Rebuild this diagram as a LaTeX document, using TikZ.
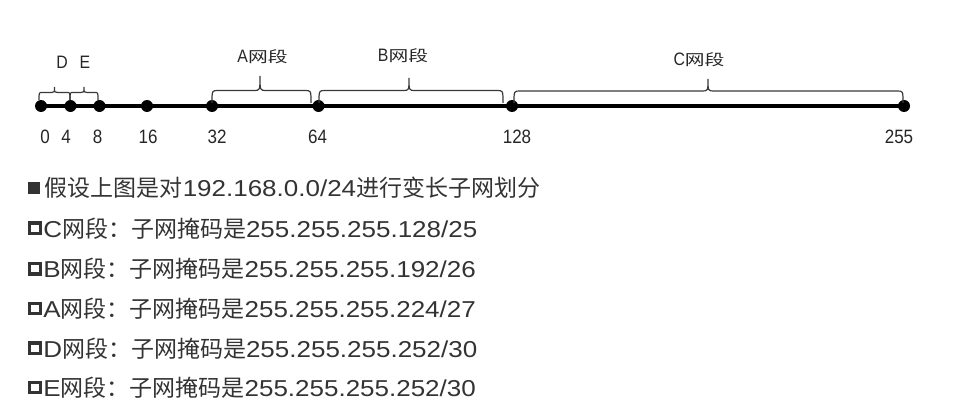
\documentclass[tikz,border=0pt]{standalone}
\usepackage{fontspec}
\newfontfamily\cjk{Noto Sans CJK SC}
\newfontfamily\cjkwide[FakeStretch=1.3]{Noto Sans CJK SC}
\newfontfamily\lat[FakeStretch=1.13]{Liberation Sans}
\newfontfamily\latn[FakeStretch=0.88]{Liberation Sans}
\definecolor{txt}{HTML}{333333}
\definecolor{brc}{HTML}{3A3A3A}
\newcommand{\segbrace}[7]{% x1 x2 tip base flat top r
  \draw[bracestyle] (#1,#4) .. controls (#1,#5) .. ({#1+#7},#5) -- ({#3-#7},#5)
    .. controls (#3,#5) .. (#3,#6) .. controls (#3,#5) .. ({#3+#7},#5)
    -- ({#2-#7},#5) .. controls (#2,#5) .. (#2,#4);}
\tikzset{
  dot/.style={circle, fill=black, inner sep=0pt, minimum size=9pt},
  axisline/.style={line width=3pt, black},
  bracestyle/.style={line width=0.9pt, brc},
  numlbl/.style={inner sep=0pt, text=black!85, font=\latn\fontsize{14.5}{15}\selectfont},
  seglbl/.style={inner sep=0pt, text=black!85, font=\latn\fontsize{13.5}{14}\selectfont},
  bodyline/.style={anchor=west, inner sep=0pt, text=txt, font=\cjk\fontsize{17.25}{18}\selectfont},
}
\newcommand{\zhw}[1]{{\cjkwide\fontsize{11.4}{12}\selectfont #1}}
\begin{document}
\begin{tikzpicture}[x=0.75pt, y=-0.75pt]
\useasboundingbox (0,0) rectangle (970,417);
% points on the line
\node[dot] (p0)   at (41,106)  {};
\node[dot] (p4)   at (70.5,106) {};
\node[dot] (p8)   at (99.5,106) {};
\node[dot] (p16)  at (147,106) {};
\node[dot] (p32)  at (212,106) {};
\node[dot] (p64)  at (318.5,106) {};
\node[dot] (p128) at (512,106) {};
\node[dot] (p255) at (904,106) {};
\draw[axisline] (p0.center) -- (p255.center);
% numbers
\node[numlbl] (n0)   at (45,137)  {0};
\node[numlbl] (n4)   at (66,137)  {4};
\node[numlbl] (n8)   at (97.5,137) {8};
\node[numlbl] (n16)  at (148,137) {16};
\node[numlbl] (n32)  at (217,137) {32};
\node[numlbl] (n64)  at (317.5,137) {64};
\node[numlbl] (n128) at (517,137) {128};
\node[numlbl] (n255) at (899,137) {255};
% braces
\segbrace{39}{70}{54.5}{100}{92.5}{87}{3}
\segbrace{70}{98}{84}{100}{92.5}{87}{3}
\segbrace{212}{311}{260}{103}{90.5}{76}{6}
\segbrace{319}{503}{409}{103}{90.5}{78}{6}
\segbrace{514}{903}{708}{103}{91}{79}{6}
% segment labels
\node[seglbl] (lD) at (62,62.5) {D};
\node[seglbl] (lE) at (85,62.5) {E};
\node[seglbl] (lA) at (262.5,56.5) {A\zhw{网段}};
\node[seglbl] (lB) at (403,55.5) {B\zhw{网段}};
\node[seglbl] (lC) at (699,59.5) {C\zhw{网段}};
% bullets
\fill[txt] (28,182) rectangle (40,194);
\foreach \yy in {228.3,268.8,308.5,348.3,387.5}{
  \draw[txt, line width=2.6pt] (29.75,\yy-5.25) rectangle (40.25,\yy+5.25);
}
% body text
\node[bodyline] (t1) at (44.5,188) {假设上图是对{\lat 192.168.0.0/24}进行变长子网划分};
\node[bodyline] (t2) at (43,228.5) {{\lat C}网段：子网掩码是{\lat 255.255.255.128/25}};
\node[bodyline] (t3) at (43,269) {{\lat B}网段：子网掩码是{\lat 255.255.255.192/26}};
\node[bodyline] (t4) at (43,308.5) {{\lat A}网段：子网掩码是{\lat 255.255.255.224/27}};
\node[bodyline] (t5) at (43,348.5) {{\lat D}网段：子网掩码是{\lat 255.255.255.252/30}};
\node[bodyline] (t6) at (43,387.5) {{\lat E}网段：子网掩码是{\lat 255.255.255.252/30}};
\end{tikzpicture}
\end{document}
